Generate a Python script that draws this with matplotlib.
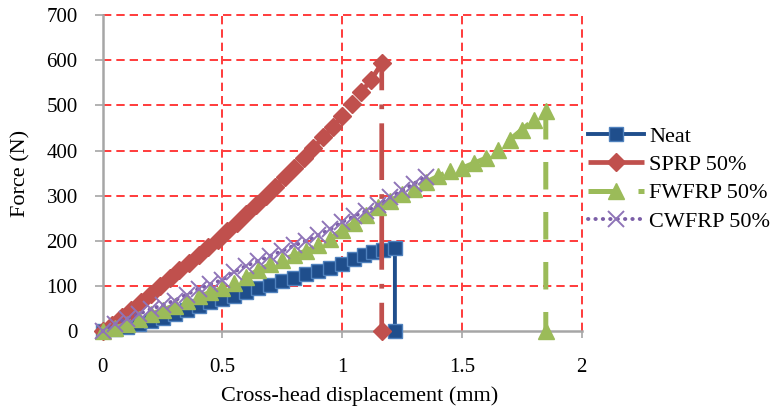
import matplotlib
matplotlib.use("Agg")
import matplotlib.pyplot as plt

# data (displacement in mm, force in N)
neat_x = [0.00, 0.05, 0.10, 0.15, 0.20, 0.25, 0.30, 0.35, 0.40, 0.45,
          0.50, 0.55, 0.60, 0.65, 0.70, 0.75, 0.80, 0.85, 0.90, 0.95,
          1.00, 1.05, 1.09, 1.13, 1.17, 1.22, 1.22]
neat_f = [0, 4, 9, 16, 23, 30, 38, 47, 56, 65,
          72, 79, 87, 95, 103, 111, 119, 126, 133, 140,
          148, 160, 168, 175, 180, 184, 0]

sprp_x = [0.00, 0.04, 0.08, 0.12, 0.16, 0.20, 0.24, 0.28, 0.32, 0.36,
          0.40, 0.44, 0.48, 0.52, 0.56, 0.60, 0.64, 0.68, 0.72, 0.76,
          0.80, 0.84, 0.88, 0.92, 0.96, 1.00, 1.04, 1.08, 1.12, 1.165, 1.165]
sprp_f = [0, 15, 31, 48, 65, 83, 101, 118, 135, 152,
          169, 186, 203, 221, 240, 259, 279, 299, 320, 341,
          362, 384, 406, 429, 452, 476, 502, 530, 556, 593, 0]

fw_x = [0.00, 0.05, 0.10, 0.15, 0.20, 0.25, 0.30, 0.35, 0.40, 0.45,
        0.50, 0.55, 0.60, 0.65, 0.70, 0.75, 0.80, 0.85, 0.90, 0.95,
        1.00, 1.05, 1.10, 1.15, 1.20, 1.25, 1.30, 1.35, 1.40, 1.45,
        1.50, 1.55, 1.60, 1.65, 1.70, 1.75, 1.80, 1.85, 1.85]
fw_f = [0, 7, 16, 27, 38, 47, 57, 68, 77, 86,
        95, 107, 121, 135, 148, 158, 168, 178, 190, 205,
        225, 240, 258, 276, 289, 303, 316, 330, 343, 355,
        361, 372, 383, 402, 424, 446, 468, 488, 0]

cw_x = [0.00, 0.05, 0.10, 0.15, 0.20, 0.25, 0.30, 0.35, 0.40, 0.45,
        0.50, 0.55, 0.60, 0.65, 0.70, 0.75, 0.80, 0.85, 0.90, 0.95,
        1.00, 1.05, 1.10, 1.15, 1.20, 1.25, 1.30, 1.35]
cw_f = [0, 16, 28, 38, 49, 58, 68, 81, 94, 104,
        114, 132, 145, 156, 167, 178, 190, 200, 212, 226,
        242, 255, 266, 280, 297, 312, 327, 342]

x_ticks = [0, 0.5, 1, 1.5, 2]
x_tick_labels = ["0", "0.5", "1", "1.5", "2"]
y_ticks = [0, 100, 200, 300, 400, 500, 600, 700]

plt.rcParams["font.family"] = ["Liberation Serif", "DejaVu Serif"]

fig = plt.figure(figsize=(7.71, 4.12), dpi=100)
ax = fig.add_axes([0.1332, 0.1959, 0.6213, 0.7677])

# series, drawn in the same order as the original (last on top)
ax.plot(neat_x, neat_f, color="#1F4E8C", lw=2.8, marker="s", ms=10,
        mfc="#1F4E8C", mec="#4F81BD", mew=1.0, label="Neat", clip_on=False,
        zorder=3)
ax.plot(sprp_x, sprp_f, color="#C0504D", lw=3.4, marker="D", ms=9,
        mfc="#C0504D", mec="#C0504D", dashes=(12, 3, 1, 3),
        label="SPRP 50%", clip_on=False, zorder=4)
ax.plot(fw_x, fw_f, color="#9BBB59", lw=3.6, marker="^", ms=12,
        mfc="#9BBB59", mec="#9BBB59", dashes=(5.5, 4.5),
        label="FWFRP 50%", clip_on=False, zorder=5)
ax.plot(cw_x, cw_f, color="#7B5EA7", lw=2.8, marker="x", ms=11, mew=1.4,
        mec="#8F74B8", linestyle=(0, (0.1, 1.8)), dash_capstyle="round",
        label="CWFRP 50%", clip_on=False, zorder=6)

ax.set_xlim(0, 2)
ax.set_ylim(0, 700)
ax.set_xticks(x_ticks)
ax.set_xticklabels(x_tick_labels)
ax.set_yticks(y_ticks)

# red dashed grid, also on the outer edges (x=2, y=700), not over the axes
ax.grid(True, color="#FF1A1A", linestyle=(0, (5, 3)), linewidth=1.2)
ax.set_axisbelow(True)
for gl in ax.get_xgridlines() + ax.get_ygridlines():
    gl.set_clip_on(False)
ax.get_xgridlines()[0].set_visible(False)
ax.get_ygridlines()[0].set_visible(False)

for side in ["top", "right"]:
    ax.spines[side].set_visible(False)
for side in ["left", "bottom"]:
    ax.spines[side].set_color("#A6A6A6")
    ax.spines[side].set_linewidth(1.8)
    ax.spines[side].set_zorder(2.6)

ax.tick_params(axis="y", direction="out", length=6, width=1.2,
               color="#A6A6A6", labelsize=15, pad=12)
ax.tick_params(axis="x", direction="out", length=5, width=1.2,
               color="#A6A6A6", labelsize=15, pad=14)

ax.set_xlabel("Cross-head displacement (mm)", fontsize=16)
ax.set_ylabel("Force (N)", fontsize=16)
ax.xaxis.set_label_coords(0.537, -0.175)
ax.yaxis.set_label_coords(-0.15, 0.5)

fig.legend(loc="center left", bbox_to_anchor=(0.763, 0.5655),
           frameon=False, fontsize=16, handlelength=2.5,
           handletextpad=0.25, labelspacing=0.35, borderpad=0,
           borderaxespad=0)

fig.savefig("out.png", dpi=100)
plt.close(fig)
